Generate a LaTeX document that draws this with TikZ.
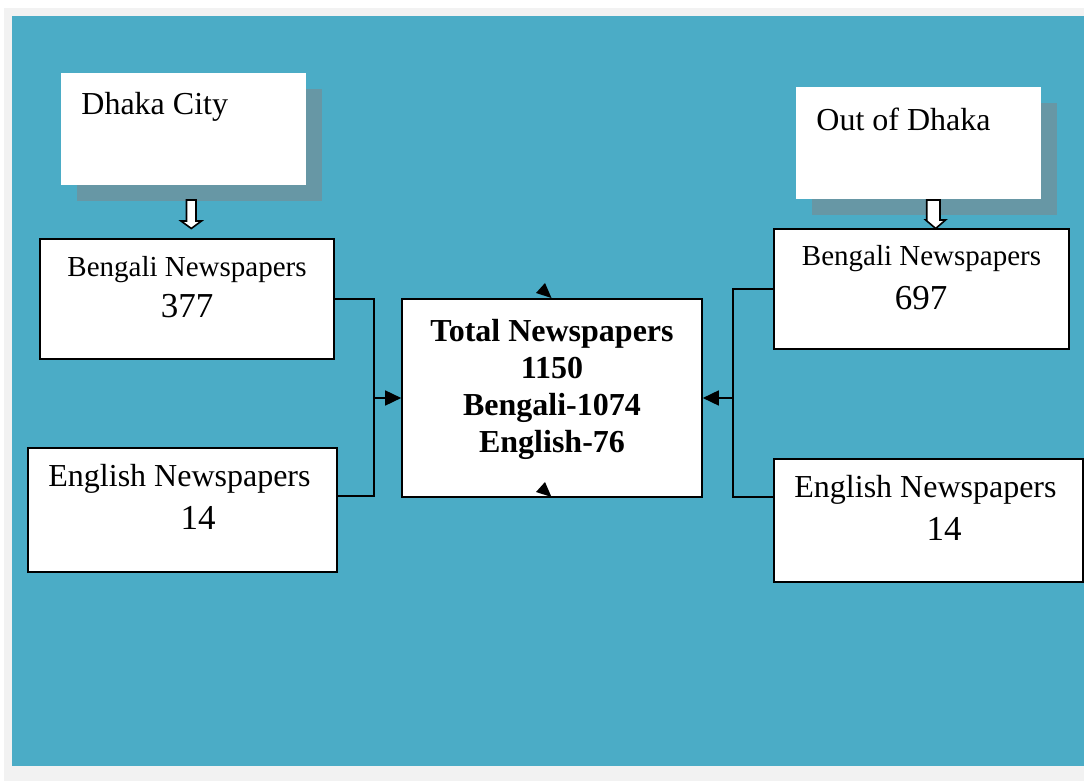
\documentclass[tikz,border=0pt]{standalone}
\usepackage{fontspec}
\setmainfont{Liberation Serif}
\usetikzlibrary{positioning,arrows}
\usetikzlibrary{arrows.meta}

\definecolor{sheetblue}{HTML}{4BACC6}
\definecolor{shadowgray}{HTML}{6797A5}
\definecolor{framegray}{HTML}{F2F2F2}

\tikzset{
  paper/.style={draw, line width=0.8pt, fill=white, inner sep=0pt},
  headbox/.style={fill=white, inner sep=0pt, minimum width=122.5pt, minimum height=56pt},
  shadowbox/.style={fill=shadowgray, inner sep=0pt, minimum width=122.5pt, minimum height=56pt},
  bengtext/.style={inner sep=0pt, font=\fontsize{14.5}{17}\selectfont},
  engtext/.style={inner sep=0pt, font=\fontsize{16}{19}\selectfont},
  numtext/.style={inner sep=0pt, font=\fontsize{17.5}{21}\selectfont},
  downarrow/.style={draw, fill=white, line width=0.8pt},
  link/.style={line width=0.8pt},
  feed/.style={line width=0.8pt, -{Triangle[length=8pt,width=7.5pt]}}
}

\begin{document}
\begin{tikzpicture}[x=0.5pt,y=-0.5pt]

    \useasboundingbox (0,0) rectangle (1084,781);
    \fill[white] (0,0) rectangle (1084,781);
    \fill[framegray] (4,8) rectangle (1084,781);
    \fill[sheetblue] (12,16) rectangle (1084,766);

    \node[shadowbox] (dhakashadow) at (199.5,145) {};
    \node[headbox] (dhaka) at (183.5,129.5) {};
    \node[engtext, anchor=west] (dhakatext) at (81,107) {Dhaka City};
    \draw[downarrow] (186.5,200) -- (196,200) -- (196,221) -- (201.5,221) -- (191.3,228.5)
        -- (181,221) -- (186.5,221) -- cycle;

    \node[shadowbox] (outshadow) at (934.5,159.5) {};
    \node[headbox] (out) at (918.5,143.5) {};
    \node[engtext, anchor=west] (outtext) at (816,119) {Out of Dhaka};
    \draw[downarrow] (926.7,200) -- (940,200) -- (940,220) -- (945.5,220) -- (935.7,228.5)
        -- (925.7,220) -- (926.7,220) -- cycle;

    \node[paper, minimum width=147pt, minimum height=60pt] (lbeng) at (187,299) {};
    \node[bengtext] (lbengtext) at (187,270) {Bengali Newspapers};
    \node[numtext] (lbengnum) at (187,306) {377};

    \node[paper, minimum width=154.5pt, minimum height=62pt] (leng) at (182.5,510) {};
    \node[engtext] (lengtext) at (179.5,479) {English Newspapers};
    \node[numtext] (lengnum) at (198,518) {14};

    \node[paper, minimum width=150pt, minimum height=99pt] (total) at (552,398) {};
    \node[inner sep=0pt, align=center, font=\fontsize{16}{18.5}\bfseries\selectfont] (totaltext)
        at (552,389) {Total Newspapers\\1150\\Bengali-1074\\English-76};

    \node[paper, minimum width=147.5pt, minimum height=60pt] (rbeng) at (921.5,289) {};
    \node[bengtext] (rbengtext) at (921.5,259) {Bengali Newspapers};
    \node[numtext] (rbengnum) at (921,298) {697};

    \node[paper, minimum width=154.5pt, minimum height=61.5pt] (reng) at (928.5,520.5) {};
    \node[engtext] (rengtext) at (925.5,490) {English Newspapers};
    \node[numtext] (rengnum) at (944,529) {14};

    \coordinate (jl) at (374,496);
    \coordinate (jr) at (733,497);
    \draw[link] (lbeng.east) -| (jl) -- (jl -| leng.east);
    \draw[feed] (jl |- total.west) -- (total.west);
    \draw[link] (rbeng.west) -| (jr) -- (jr -| reng.west);
    \draw[feed] (jr |- total.east) -- (total.east);

    \fill (545,283) -- (551.5,298) -- (536,293) -- cycle;
    \fill (545,482) -- (551.5,497) -- (536,492) -- cycle;

\end{tikzpicture}
\end{document}
